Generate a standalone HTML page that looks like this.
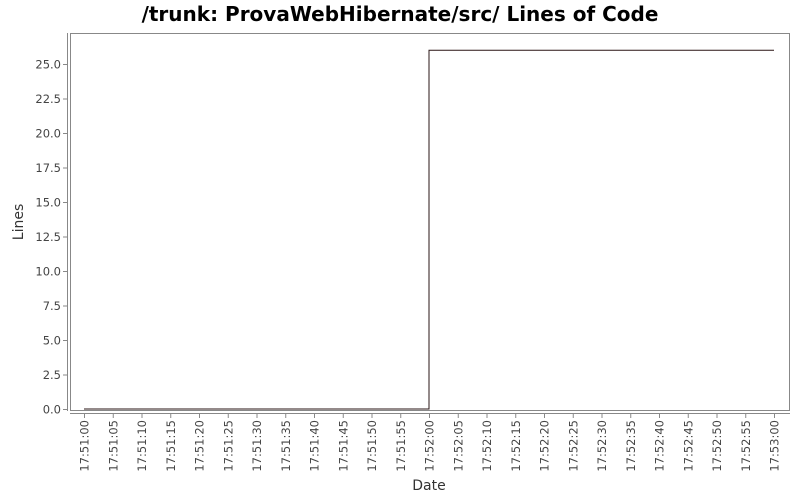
<!DOCTYPE html>
<html><head><meta charset="utf-8"><style>
body{margin:0;background:#fff;}
svg{display:block;font-family:"DejaVu Sans","Liberation Sans",sans-serif;}
</style></head><body>
<svg id="chart" width="800" height="500" viewBox="0 0 800 500">
<text x="400" y="21" text-anchor="middle" font-size="20" font-weight="bold" fill="#000">/trunk: ProvaWebHibernate/src/ Lines of Code</text>
<rect x="70.5" y="33.5" width="719" height="377" fill="#fff" stroke="#888"/>
<line x1="67.5" y1="33" x2="67.5" y2="411" stroke="#888"/>
<line x1="70" y1="413.5" x2="790" y2="413.5" stroke="#888"/>
<g id="yticks"></g><g id="xticks"></g><g id="series"></g>
<text transform="translate(23,222) rotate(-90)" text-anchor="middle" font-size="14" fill="#333">Lines</text>
<text x="429" y="490" text-anchor="middle" font-size="14" fill="#333">Date</text>
</svg>
<script>
const yTicks=[0,2.5,5,7.5,10,12.5,15,17.5,20,22.5,25];
const xTickLabels=["17:51:00","17:51:05","17:51:10","17:51:15","17:51:20","17:51:25","17:51:30","17:51:35","17:51:40","17:51:45","17:51:50","17:51:55","17:52:00","17:52:05","17:52:10","17:52:15","17:52:20","17:52:25","17:52:30","17:52:35","17:52:40","17:52:45","17:52:50","17:52:55","17:53:00"];
const timesSec=[0,60,120];
const linesValues=[0,26,26];
const NS="http://www.w3.org/2000/svg";
function ys(v){return 409-v*13.8;}
function xs(t){return 84+t*(690/120);}
function mk(tag,attrs,parent){const e=document.createElementNS(NS,tag);for(const k in attrs)e.setAttribute(k,attrs[k]);parent.appendChild(e);return e;}
const yg=document.getElementById('yticks');
yTicks.forEach(v=>{const y=ys(v);
 const l=mk('line',{x1:63,x2:67,y1:y+0.5,y2:y+0.5,stroke:'#888'},yg);
 
 
 const t=mk('text',{x:61,y:y+4.5,'text-anchor':'end','font-size':11.5,fill:'#444'},yg);
 
 
 t.textContent=v.toFixed(1);});
const xg=document.getElementById('xticks');
xTickLabels.forEach((s,i)=>{const x=xs(i*5);
 const l=mk('line',{x1:x+0.5,x2:x+0.5,y1:414,y2:418,stroke:'#888'},xg);
 
 
 const t=mk('text',{transform:`translate(${x+4.5},420) rotate(-90)`,'text-anchor':'end','font-size':11.5,fill:'#444'},xg);
 
 
 t.textContent=s;});
let d='';
timesSec.forEach((t,i)=>{const x=xs(t),y=ys(linesValues[i]);
 if(i===0)d+=`M${x},${y}`;else d+=`H${x}V${y}`;});
d+=`H${xs(120)}`;
const p=mk('path',{d:d,fill:'none',stroke:'#2a1414','stroke-width':1},document.getElementById('series'));


</script>
</body></html>
